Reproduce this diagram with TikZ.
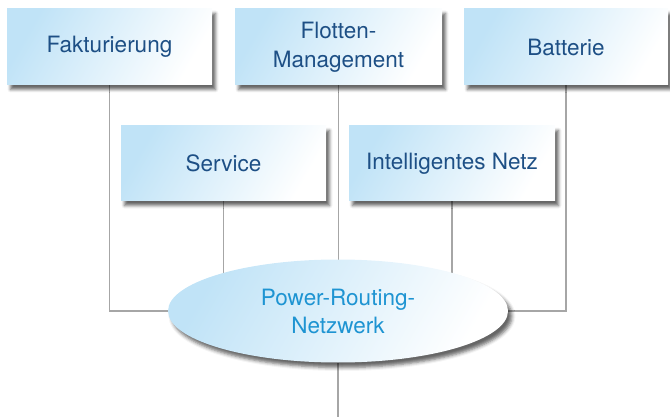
\documentclass[tikz,border=0pt]{standalone}
\usepackage{fontspec}
\setmainfont{TeX Gyre Heros}
\usetikzlibrary{shapes.geometric,shadows.blur,backgrounds}
\definecolor{boxblue}{HTML}{C0E3F7}
\definecolor{txtblue}{HTML}{1D4F85}
\definecolor{elltxt}{HTML}{1E94D2}
\definecolor{linegray}{HTML}{A6A6A6}
\tikzset{
  box/.style={rectangle, minimum width=205pt, minimum height=76pt, inner sep=0pt,
    left color=boxblue, right color=white, shading angle=60,
    blur shadow={shadow xshift=3.5pt, shadow yshift=-4.5pt, shadow blur radius=3pt, shadow opacity=60},
    text=txtblue, align=center, font=\fontsize{22.5}{29}\selectfont},
  net/.style={ellipse, minimum width=340pt, minimum height=103pt, inner sep=0pt,
    left color=boxblue, right color=white, shading angle=60,
    blur shadow={shadow xshift=4pt, shadow yshift=-5pt, shadow blur radius=3.5pt, shadow opacity=60},
    text=elltxt, align=center, font=\fontsize{22.5}{28}\selectfont},
  conn/.style={draw=linegray, line width=1.1pt}
}
\begin{document}
\begin{tikzpicture}[x=1pt,y=-1pt]
\useasboundingbox (0,0) rectangle (670,417);
\node[box] (fak) at (109.5,47) {Fakturierung};
\node[box, minimum width=207pt] (flo) at (338.5,47) {Flotten-\\Management};
\node[box, minimum width=204pt] (bat) at (566,47) {Batterie};
\node[box, minimum height=75pt] (svc) at (223.5,163.5) {Service};
\node[box, minimum width=206pt, minimum height=75pt] (int) at (452,163.5) {Intelligentes Netz};
\node[net] (ell) at (338,311) {Power-Routing-\\Netzwerk};
\coordinate (out) at (338,417);
\begin{scope}[on background layer]
\draw[conn] (fak.south) |- (ell.center);
\draw[conn] (bat.south) |- (ell.center);
\draw[conn] (svc.south) -- (svc.south |- ell.center);
\draw[conn] (int.south) -- (int.south |- ell.center);
\draw[conn] (flo.south) -- (flo.south |- ell.center);
\draw[conn] (ell.center) -- (out);
\end{scope}
\end{tikzpicture}
\end{document}
